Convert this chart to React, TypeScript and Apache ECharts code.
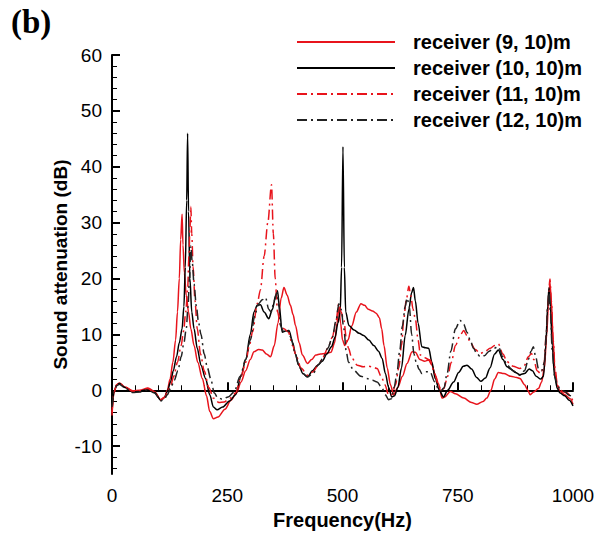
import React, { useEffect, useRef } from "react";
import * as echarts from "echarts";

const seriesNames = ["receiver (9, 10)m", "receiver (10, 10)m", "receiver (11, 10)m", "receiver (12, 10)m"];
const yMajorTicks = [-10, 0, 10, 20, 30, 40, 50, 60];
const yMinorTicks = [-14, -12, -8, -6, -4, -2, 2, 4, 6, 8, 12, 14, 16, 18, 22, 24, 26, 28, 32, 34, 36, 38, 42, 44, 46, 48, 52, 54, 56, 58];

// receiver (9, 10)m : [frequency Hz, attenuation dB]
const rec9: number[][] = [
  [0, -4.5], [4, -0.5], [10, 1], [16, 1.3], [28, 0.6], [45, -0.1], [60, 0], [78, 0.4], [92, -0.2], [106, -1.7], [114, -1.2],
  [120, 0], [126, 2], [132, 5], [138, 9], [142, 14], [146, 20], [149, 27], [152, 31.5], [154, 26], [157, 21], [161, 17],
  [166, 14], [171, 11], [178, 8], [186, 5], [196, 2.1], [205, -1], [212, -3.8], [220, -5.1], [230, -4.8], [245, -3.4],
  [258, -1.8], [270, -0.5], [280, 1.5], [290, 3.5], [300, 5.5], [308, 6.9], [318, 7.3], [326, 7.2], [335, 6.5], [344, 6],
  [352, 8], [360, 12], [367, 16.5], [373, 18.4], [380, 17], [387, 15.2], [393, 13.5], [398, 11.6], [406, 8.5], [413, 6.3],
  [424, 4.8], [433, 5.5], [442, 6.3], [452, 6.5], [463, 6.6], [475, 6.8], [483, 8.5], [488, 12], [492, 15], [496, 12],
  [500, 9], [505, 8], [512, 9], [520, 11.5], [530, 14], [540, 15.5], [548, 15.2], [556, 14.5], [565, 14.2], [573, 13.8],
  [580, 13], [585, 11], [590, 8], [597, 4], [604, 1], [611, -0.8], [620, 0.5], [630, 2.5], [640, 4.8], [651, 6.9],
  [658, 6.8], [668, 5.5], [678, 5.2], [687, 5.4], [694, 4.5], [702, 2.5], [708, 1.2], [716, -1.4], [722, -1.2], [734, -0.2],
  [745, -0.6], [763, -1.4], [780, -2.2], [791, -2.5], [805, -2], [813, -1.4], [822, 0], [830, 2], [838, 3.2], [850, 3],
  [865, 2.5], [878, 2.3], [885, 2.1], [895, 1], [902, 0], [907, -0.8], [915, -0.3], [925, 0.3], [932, 1.5], [938, 4],
  [943, 10], [947, 16], [950, 19.3], [953, 16], [957, 9], [961, 3], [966, 0.8], [972, -0.2], [982, -0.8], [994, -1.5],
  [1000, -2.5],
];

// receiver (10, 10)m
const rec10: number[][] = [
  [0, -3.5], [4, -0.5], [10, 0.9], [16, 1.2], [28, 0.5], [45, -0.3], [60, -0.2], [78, 0.2], [92, -0.4], [106, -1.8],
  [114, -1.3], [120, -0.2], [127, 1.5], [133, 3.5], [140, 6], [146, 8.5], [152, 11], [156, 15], [159, 22], [162, 34],
  [164, 46], [166, 32], [169, 20], [173, 14], [178, 11], [185, 7.5], [193, 4.5], [203, 2.1], [212, -0.8], [220, -3],
  [228, -3.5], [240, -3], [255, -1.9], [268, -0.8], [280, 2.5], [290, 5.5], [300, 10], [308, 14], [315, 15.2],
  [322, 15.3], [330, 14], [340, 12.8], [348, 14.5], [355, 17], [359, 17.8], [363, 15], [369, 10.4], [376, 10.6],
  [384, 10.7], [392, 8.5], [398, 6.5], [405, 4.5], [414, 3], [424, 2.4], [435, 3.5], [446, 4.5], [456, 5.2], [466, 6.5],
  [476, 7.8], [484, 9.5], [490, 12], [495, 14], [498, 22], [501, 43.6], [504, 22], [507, 14], [514, 11.6], [525, 10.8],
  [536, 10.2], [546, 9.8], [557, 9], [568, 8], [578, 7], [586, 5.7], [593, 3], [600, 0.5], [607, -1.2], [613, -1],
  [620, 0.5], [628, 4], [636, 9.8], [644, 14.5], [650, 17.5], [654, 18.4], [658, 16], [664, 12], [672, 7.8], [680, 7.6],
  [687, 7.5], [694, 5], [701, 2.1], [710, 0], [719, -1.2], [728, 0], [741, 1.5], [752, 3.2], [762, 4.3], [770, 4.5],
  [780, 3.8], [791, 2.3], [800, 1.6], [810, 2.2], [820, 4], [830, 6.5], [838, 7.2], [848, 5.5], [857, 4.2], [865, 3.8],
  [875, 3.2], [885, 2.8], [895, 3], [905, 3.8], [912, 3.5], [920, 2.5], [930, 2], [936, 2.5], [941, 8], [945, 15],
  [948, 18.4], [951, 15], [955, 8], [960, 2.5], [966, 0.3], [972, -0.5], [982, -1], [992, -1.8], [1000, -2.8],
];

// receiver (11, 10)m
const rec11: number[][] = [
  [0, -4], [4, -0.5], [10, 1], [16, 1.3], [28, 0.6], [45, -0.2], [60, -0.1], [78, 0.3], [92, -0.3], [106, -1.7],
  [114, -1.3], [120, -0.5], [127, 0.8], [134, 2.5], [142, 5], [150, 8], [155, 10.5], [160, 14], [164, 18], [167, 24],
  [169, 29], [171, 32.9], [173, 28], [176, 22], [180, 16], [185, 11], [192, 6.5], [200, 3.5], [210, 0.5], [220, -1.4],
  [232, -2.2], [243, -2.1], [255, -1.5], [268, -0.5], [280, 2.5], [290, 5], [298, 8], [305, 10.5], [315, 15.5], [322, 18],
  [330, 24], [338, 30], [346, 36.8], [350, 28], [354, 20], [359, 14], [366, 11.6], [373, 11], [382, 10.5], [392, 8],
  [400, 6], [410, 4], [424, 2.7], [436, 3.3], [448, 4.6], [458, 6], [468, 7.5], [478, 9.5], [486, 12.5], [492, 15.5],
  [497, 14], [503, 12.5], [508, 9.5], [513, 7.5], [520, 5.8], [532, 4.5], [545, 4.2], [555, 4.3], [565, 4.2], [575, 3.9],
  [584, 2.5], [592, 1], [600, -0.8], [607, -0.8], [615, 1], [622, 4], [628, 8], [633, 12.8], [638, 16], [644, 18.6],
  [648, 17], [653, 14.5], [658, 12.8], [664, 9], [669, 6.3], [678, 5.8], [690, 5.4], [700, 3], [708, 0.9], [714, 0],
  [720, 0.3], [728, 2.5], [736, 5], [745, 8], [755, 9.8], [763, 10.7], [770, 9.8], [777, 8.6], [788, 7.3], [799, 6.6],
  [810, 7], [820, 7.5], [830, 8], [838, 8.3], [848, 6.5], [857, 5.1], [870, 4.3], [885, 3.9], [895, 4.5], [903, 6],
  [910, 6.6], [915, 5.5], [922, 3.5], [930, 3], [937, 4.5], [942, 10], [946, 16], [950, 19.9], [953, 16], [957, 9],
  [961, 4], [966, 1], [972, 0], [980, -0.3], [988, -0.5], [994, -1], [1000, -2],
];

// receiver (12, 10)m
const rec12: number[][] = [
  [0, -3], [4, -0.3], [10, 0.8], [16, 1.1], [28, 0.4], [45, -0.4], [60, -0.3], [78, 0.1], [92, -0.5], [106, -1.9],
  [114, -1.5], [120, -0.8], [127, 0.3], [135, 1.8], [143, 3.5], [150, 6], [156, 8.5], [161, 11], [165, 15], [168, 20],
  [171, 25.8], [174, 23], [178, 19], [183, 15], [188, 12], [193, 10], [200, 6.5], [207, 4], [214, 2.1], [222, -0.5],
  [230, -1.4], [240, -1.6], [252, -1.2], [265, -0.3], [278, 2.5], [290, 5.5], [300, 9], [310, 13.5], [318, 15.5],
  [326, 16.2], [333, 16.6], [340, 14.5], [345, 14], [352, 16], [358, 17.5], [362, 15], [366, 11.5], [372, 10.5],
  [380, 10.8], [388, 9.5], [396, 7], [405, 4.5], [414, 3], [424, 2.4], [436, 3], [448, 4.6], [458, 5.8], [468, 7.5],
  [478, 9.5], [486, 12.5], [492, 15.5], [497, 14.5], [503, 11], [508, 7], [513, 5], [524, 3.6], [540, 2.5], [553, 2.1],
  [565, 1.8], [575, 1.5], [585, 0.5], [593, -0.8], [600, -1.7], [606, -1.5], [612, 0.5], [618, 3], [624, 7], [630, 11.5],
  [636, 15], [640, 16.5], [645, 15], [650, 10], [655, 6.5], [660, 5], [666, 3.8], [672, 3], [681, 3.3], [690, 3.3],
  [700, 1.5], [708, 0.3], [714, 0], [720, 0.4], [727, 3], [735, 7], [745, 11], [755, 12.5], [763, 11.8], [770, 10.4],
  [777, 9], [784, 7.5], [792, 6.5], [799, 6], [808, 6.2], [818, 7], [828, 7.5], [838, 7.8], [848, 6], [857, 4.5],
  [870, 3.5], [885, 2.7], [895, 3.5], [903, 5.5], [909, 7], [914, 7.8], [919, 6], [925, 3.9], [932, 3.5], [938, 5],
  [942, 10], [945, 15], [948, 18], [951, 14], [955, 7], [960, 2.5], [966, 1], [972, 0.2], [982, -0.2], [990, -0.8],
  [995, -1], [1000, -1.6],
];

const RED = "#e8141c";
const BLACK = "#000000";
const DARK = "#222222";
const FONT = "'Liberation Sans', Arial, Helvetica, sans-serif";

export default function App() {
  const ref = useRef<HTMLDivElement>(null);

  useEffect(() => {
    if (!ref.current) return;
    const chart = echarts.init(ref.current, undefined, { renderer: "svg" });
    const mk = (name: string, data: number[][], color: string, type: any) => ({
      name,
      type: "line",
      data,
      xAxisIndex: 0,
      yAxisIndex: 0,
      showSymbol: false,
      symbol: "none",
      smooth: 0.3,
      smoothMonotone: "x",
      lineStyle: { color, width: 1.5, type },
      itemStyle: { color },
      z: 3,
    });
    chart.setOption({
      animation: false,
      backgroundColor: "#ffffff",
      textStyle: { fontFamily: FONT },
      grid: { left: 112, right: 32, top: 55, bottom: 59, containLabel: false },
      graphic: [
        {
          type: "text",
          left: 11,
          top: 5,
          style: { text: "(b)", fontFamily: "'Liberation Serif', 'Times New Roman', serif", fontWeight: "bold", fontSize: 33, fill: "#000" },
        },
      ],
      legend: {
        orient: "vertical",
        left: 296,
        top: 32,
        itemWidth: 98,
        itemHeight: 14,
        itemGap: 6,
        padding: 0,
        data: seriesNames,
        itemStyle: { opacity: 0 },
        textStyle: { fontFamily: FONT, fontWeight: "bold", fontSize: 20, lineHeight: 20, color: "#000", padding: [0, 0, 0, 13] },
      },
      xAxis: {
        type: "value",
        min: 0,
        max: 1000,
        interval: 250,
        name: "Frequency(Hz)",
        nameLocation: "middle",
        nameGap: 34,
        nameTextStyle: { fontFamily: FONT, fontWeight: "bold", fontSize: 20, color: "#000" },
        axisLine: { show: true, lineStyle: { color: "#000", width: 2 } },
        axisTick: { show: true, inside: true, length: 8, lineStyle: { color: "#000", width: 2 } },
        minorTick: { show: true, splitNumber: 5, length: 5, lineStyle: { color: "#000", width: 1 } },
        axisLabel: { fontFamily: FONT, fontSize: 19, color: "#000", margin: 12, formatter: (v: number) => String(v) },
        splitLine: { show: false },
      },
      yAxis: [
        {
          type: "value",
          min: -15,
          max: 60,
          name: "Sound attenuation (dB)",
          nameLocation: "middle",
          nameGap: 42,
          nameMoveOverlap: false,
          nameRotate: 90,
          nameTextStyle: { fontFamily: FONT, fontWeight: "bold", fontSize: 19, color: "#000" },
          axisLine: { show: true, lineStyle: { color: "#000", width: 2 } },
          axisTick: { show: true, inside: true, length: 8, customValues: yMajorTicks, lineStyle: { color: "#000", width: 2 } },
          axisLabel: { fontFamily: FONT, fontSize: 19, color: "#000", margin: 10, customValues: yMajorTicks },
          splitLine: { show: false },
        },
        {
          type: "value",
          min: -15,
          max: 60,
          position: "left",
          offset: 0,
          axisLine: { show: false, onZero: false },
          axisTick: { show: true, inside: true, length: 5, customValues: yMinorTicks, lineStyle: { color: "#000", width: 1 } },
          axisLabel: { show: true, customValues: yMinorTicks, formatter: () => "", color: "rgba(0,0,0,0)" },
          splitLine: { show: false },
        },
      ],
      series: [
        mk(seriesNames[0], rec9, RED, "solid"),
        mk(seriesNames[1], rec10, BLACK, "solid"),
        mk(seriesNames[2], rec11, RED, [10, 4, 2, 4]),
        mk(seriesNames[3], rec12, DARK, [10, 4, 2, 4]),
      ],
    });
    return () => chart.dispose();
  }, []);

  return (
    <div
      ref={ref}
      style={{ position: "fixed", left: 0, top: 0, width: 605, height: 535, background: "#fff" }}
    />
  );
}
